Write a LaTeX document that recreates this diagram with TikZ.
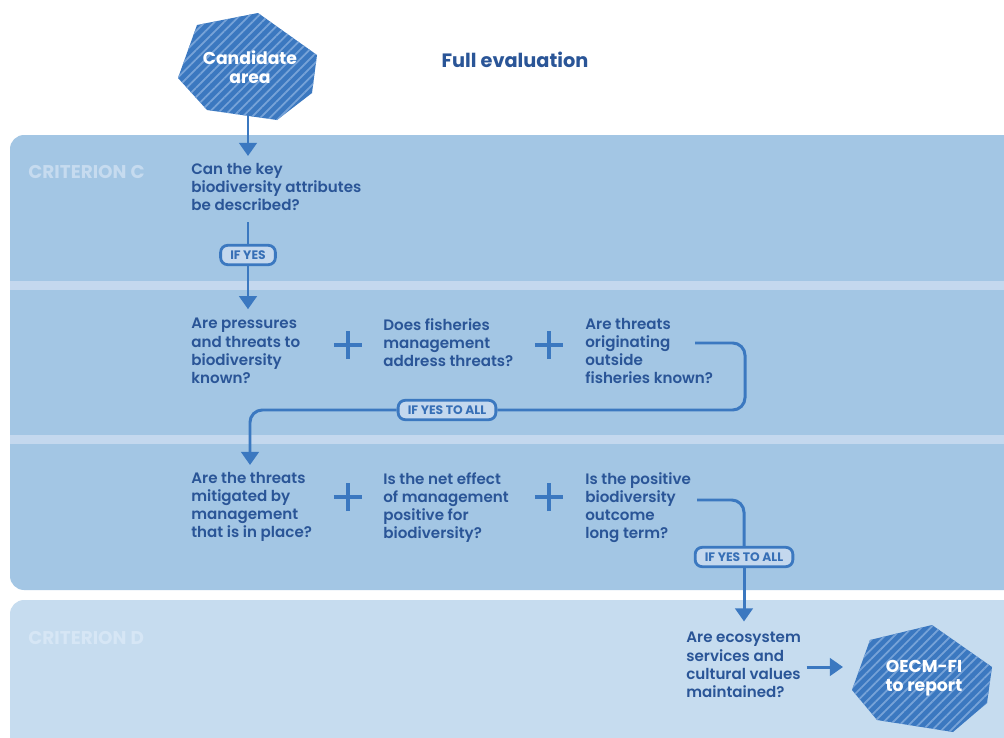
\documentclass[tikz,border=0pt]{standalone}
\usepackage{fontspec}
\setmainfont{Poppins}
\newfontfamily\qfont{Poppins SemiBold}
\usetikzlibrary{arrows.meta,patterns.meta}
\definecolor{bandblue}{HTML}{A3C6E4}
\definecolor{striplight}{HTML}{C4D8EE}
\definecolor{banddlight}{HTML}{C6DCEF}
\definecolor{textnavy}{HTML}{2A5597}
\definecolor{linkblue}{HTML}{3B78C0}
\definecolor{hatchblue}{HTML}{77A3D8}
\definecolor{critc}{HTML}{C6DBEF}
\definecolor{critd}{HTML}{D6E6F5}

\tikzset{
  question/.style={anchor=north west, inner sep=0pt, align=left,
    font=\qfont\fontsize{8.6}{10.3}\selectfont, text=textnavy},
  link/.style={draw=linkblue, line width=1.7pt, rounded corners=7pt},
  linkarrow/.style={link, -{Triangle[length=7.5pt,width=10pt]}},
  yeslabel/.style={draw=linkblue, line width=1.6pt, fill=striplight,
    rounded corners=4pt, inner xsep=5.5pt, inner ysep=3pt,
    font=\bfseries\fontsize{7}{7}\selectfont, text=linkblue!75!textnavy},
  hexfill/.style={fill=linkblue,
    postaction={pattern={Lines[angle=45,distance=3.8pt,line width=1pt]}, pattern color=hatchblue}},
  hextext/.style={align=center, text=white, font=\bfseries\fontsize{9.8}{10.8}\selectfont},
  criterion/.style={anchor=west, inner sep=0pt, font=\bfseries\fontsize{10.5}{11}\selectfont},
  plusmark/.pic={\draw[linkblue, line width=2pt] (-8pt,0) -- (8pt,0) (0,-8pt) -- (0,8pt);}
}

\begin{document}
\begin{tikzpicture}[x=0.02cm,y=-0.02cm]

\useasboundingbox[fill=white] (0,0) rectangle (1004,737);

% bands
\fill[bandblue, rounded corners=8pt] (10,135) rectangle (1040,590);
\fill[striplight] (10,281) rectangle (1004,290);
\fill[striplight] (10,435) rectangle (1004,444);
\fill[banddlight, rounded corners=8pt] (10,600) rectangle (1040,770);

\node[criterion, text=critc] (critC) at (28,172) {CRITERION C};
\node[criterion, text=critd] (critD) at (28,638) {CRITERION D};

% candidate area
\fill[hexfill] (258,13) -- (317,55) -- (312,93) -- (277,120) -- (207,110) -- (178,78) -- (197,25) -- cycle;
\node[hextext] (cand) at (250,67) {Candidate\\area};
\coordinate (candfoot) at (248,116);

\node[text=textnavy, font=\bfseries\fontsize{11}{12}\selectfont] (title) at (515,60) {Full evaluation};

% step 1
\node[question] (q1) at (191,163) {Can the key\\biodiversity attributes\\be described?};
\node[yeslabel] (yes1) at (248,255) {IF YES};

% step 2
\node[question] (q2a) at (191,318) {Are pressures\\and threats to\\biodiversity\\known?};
\node[question] (q2b) at (383,318) {Does fisheries\\management\\address threats?};
\node[question] (q2c) at (585,318) {Are threats\\originating\\outside\\fisheries known?};
\pic at (348,345) {plusmark};
\pic at (549,345) {plusmark};
\coordinate (outa) at (695,343);
\node[yeslabel] (yes2) at (447,410) {IF YES TO ALL};

% step 3
\node[question] (q3a) at (191,472) {Are the threats\\mitigated by\\management\\that is in place?};
\node[question] (q3b) at (383,472) {Is the net effect\\of management\\positive for\\biodiversity?};
\node[question] (q3c) at (585,472) {Is the positive\\biodiversity\\outcome\\long term?};
\pic at (348,497) {plusmark};
\pic at (549,497) {plusmark};
\coordinate (outb) at (697,500);
\node[yeslabel] (yes3) at (744,557) {IF YES TO ALL};

% criterion d
\node[question] (q4) at (686,632) {Are ecosystem\\services and\\cultural values\\maintained?};
\fill[hexfill] (932,625) -- (992,667) -- (987,703) -- (953,732) -- (877,720) -- (852,690) -- (870,640) -- cycle;
\node[hextext] (oecm) at (924,678) {OECM-FI\\to report};
\coordinate (oecmin) at (843,667);

% connectors
\draw[linkarrow, shorten >=4pt] (candfoot) -- (candfoot |- q1.north);
\draw[link] (yes1.north |- 0,222) -- (yes1.north);
\draw[linkarrow, shorten >=5pt] (yes1.south) -- (yes1.south |- q2a.north);
\draw[link] (outa) -- ++(50,0) |- (yes2.east);
\draw[linkarrow] (yes2.west) -| (250,465);
\draw[link] (outb) -- ++(47,0) -- (yes3.north);
\draw[linkarrow, shorten >=6pt] (yes3.south) -- (yes3.south |- q4.north);
\draw[linkarrow, shorten <=3pt] (q4.east |- oecmin) -- (oecmin);

\end{tikzpicture}
\end{document}
